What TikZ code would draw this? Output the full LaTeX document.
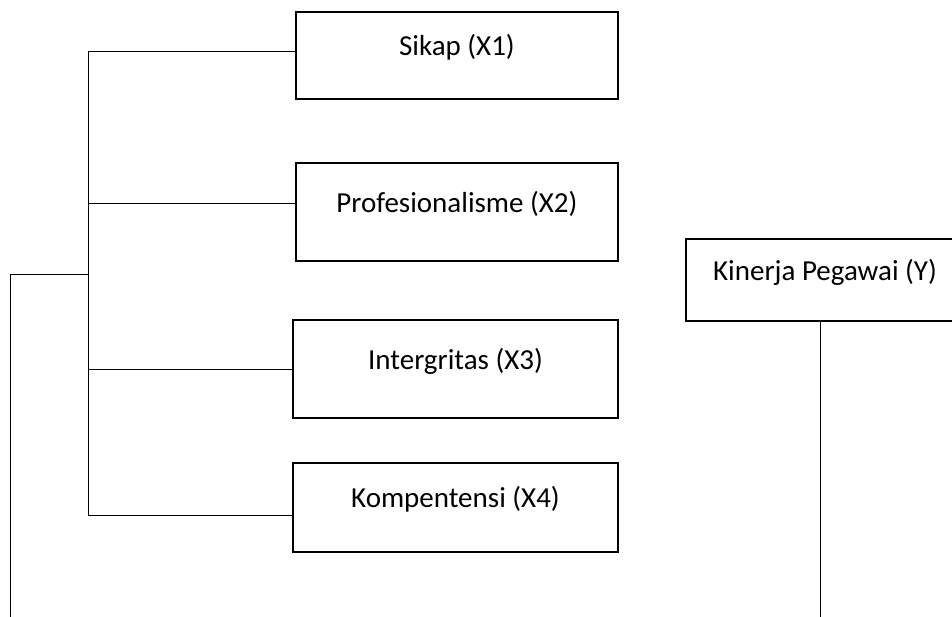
\documentclass[tikz,border=0pt]{standalone}
\usepackage{fontspec}
\setmainfont{Carlito}
\begin{document}
\begin{tikzpicture}[x=1pt,y=-1pt,
  varbox/.style={draw=black, line width=2pt, rectangle, inner sep=0pt, anchor=center,
    text height=20pt, text depth=20pt, font=\fontsize{29}{35}\selectfont},
  conn/.style={draw=black, line width=1pt}]
\useasboundingbox (0,0) rectangle (952,616);
\clip (0,0) rectangle (952,616);
\fill[white] (0,0) rectangle (952,616);

\node[varbox, minimum width=322pt, minimum height=87pt] (x1) at (457,55.5) {Sikap (X1)};
\node[varbox, minimum width=322pt, minimum height=98pt] (x2) at (457,212) {Profesionalisme (X2)};
\node[varbox, minimum width=325pt, minimum height=98pt] (x3) at (455.5,369) {Intergritas (X3)};
\node[varbox, minimum width=325pt, minimum height=89pt] (x4) at (455.5,507.5) {Kompentensi (X4)};
\node[varbox, minimum width=278pt, minimum height=82pt] (y) at (825,280) {Kinerja Pegawai (Y)};

\coordinate (b1) at (88,51);
\coordinate (b2) at (88,203);
\coordinate (b3) at (88,369);
\coordinate (b4) at (88,515);
\coordinate (bm) at (88,274);
\coordinate (l1) at (10,274);
\coordinate (l2) at (10,617);
\coordinate (yb) at (820,617);

\draw[conn] (b1) -- (b4);
\draw[conn] (b1) -- (x1.west |- b1);
\draw[conn] (b2) -- (x2.west |- b2);
\draw[conn] (b3) -- (x3.west |- b3);
\draw[conn] (b4) -- (x4.west |- b4);
\draw[conn] (bm) -- (l1) -- (l2);
\draw[conn] (y.south -| yb) -- (yb);
\end{tikzpicture}
\end{document}
